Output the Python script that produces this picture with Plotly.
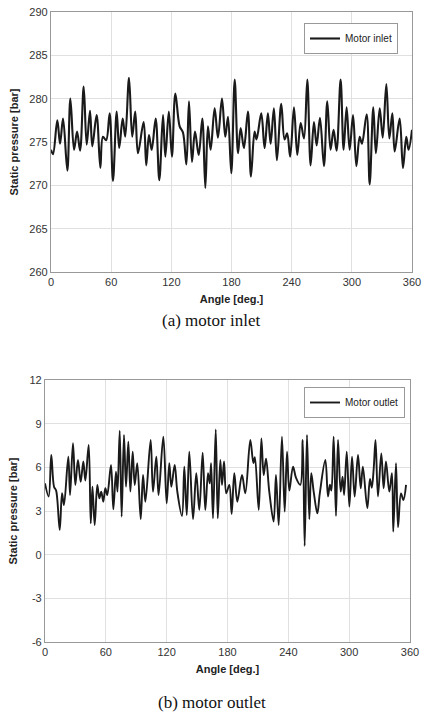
import plotly.graph_objects as go

# motor inlet: static pressure extremes
inlet_angle = [0, 2, 6.3, 9, 12, 16.3, 19.3, 23, 26, 29, 32.6, 35.6, 38.9, 41.2, 45.5, 49.2, 51.8, 55,
               58.5, 61.8, 65.5, 68, 71.5, 74, 77.8, 81, 84, 86.7, 92.4, 95, 97.7, 100.4, 104.4, 108,
               111.7, 114, 117.5, 120.6, 124, 128.3, 131.6, 135, 137.6, 140.6, 143.6, 147.3, 150.9,
               153.9, 156.5, 159.2, 163.2, 166.5, 170.5, 173.8, 176.5, 179.8, 183.2, 186.5, 189.1,
               192.4, 196.4, 199.4, 203, 205, 209.7, 213, 216.3, 219, 222.3, 225.3, 229.6, 232.9,
               235.5, 238.5, 242.3, 245.6, 249, 252.3, 255.6, 258.9, 262.2, 264.9, 268.2, 272.2,
               275.5, 278.8, 281.8, 284.8, 288.8, 291.8, 294.8, 297.8, 301.2, 304.5, 307.8, 310.1,
               314.8, 317.8, 321.4, 324, 327.8, 330.8, 334.4, 337.4, 340.4, 342.7, 347.7, 351, 354.3,
               356.6, 360]
inlet_pressure = [274.1, 273.6, 277.5, 274.8, 277.7, 271.7, 280.0, 274.1, 276.2, 274.0, 281.4, 274.7,
                  278.6, 274.5, 278.1, 272.0, 275.6, 275.2, 278.3, 270.5, 278.5, 274.3, 277.7, 275.6,
                  282.4, 275.6, 278.5, 273.7, 277.3, 272.3, 275.8, 274.1, 277.7, 270.6, 278.1, 273.3,
                  278.5, 273.3, 280.6, 276.8, 276.1, 272.4, 279.7, 272.7, 276.2, 273.5, 277.7, 269.7,
                  276.8, 274.1, 278.9, 275.5, 280.0, 275.6, 277.9, 271.4, 282.2, 273.7, 276.6, 274.3,
                  278.5, 271.0, 276.2, 275.3, 278.3, 274.3, 278.3, 274.8, 278.9, 272.9, 279.4, 275.3,
                  276.0, 273.3, 279.0, 273.5, 277.2, 275.4, 282.2, 272.3, 277.3, 274.6, 277.8, 272.2,
                  279.7, 274.1, 276.4, 274.0, 282.2, 274.1, 279.0, 274.1, 278.1, 272.2, 275.6, 274.8,
                  278.2, 270.1, 279.0, 273.7, 278.9, 275.5, 281.7, 275.4, 278.3, 273.9, 277.7, 272.0,
                  275.6, 274.1, 276.4]

# motor outlet
outlet_angle = [0, 3.6, 6.2, 8.9, 11, 14.5, 16.8, 18.7, 23, 24.7, 27.6, 29.9, 32.5, 35.2, 37.8, 39.8,
                43.1, 45.1, 46.8, 49, 51.6, 53.6, 55.5, 57.5, 59.5, 61.4, 65.1, 67.4, 70, 71.5, 73.7,
                75.6, 77.9, 79.9, 82.2, 84.2, 86.5, 88.5, 91, 94.4, 96.7, 99, 104.2, 106.5, 109.8, 112,
                116.7, 120, 122.6, 124.6, 127.9, 130.5, 135.1, 137.4, 139.8, 142.3, 146, 149.2, 152.2,
                155.5, 158.1, 160.8, 162.5, 163.8, 165.7, 168.4, 170.4, 172.9, 174.6, 176.6, 178.8,
                181.8, 184.1, 186.7, 189.7, 194.3, 197.6, 202.5, 205.5, 207, 210.8, 213.4, 215.7, 218,
                221.2, 225.5, 227.8, 230.5, 233.7, 236.4, 238.7, 241, 244.6, 247.5, 251.8, 254.2,
                256.1, 258.4, 260.7, 262.6, 265, 268.6, 271, 276.5, 279.1, 281, 282.5, 284.7, 287, 289,
                291.6, 293.5, 295, 297.6, 300.2, 302.8, 305.4, 308.7, 311.4, 313.5, 317.9, 320.5,
                322.3, 324.2, 326, 328.4, 331.7, 334, 336.3, 339.6, 342.2, 343.5, 346.2, 348.2, 351.1,
                353.5, 356.1, 360]
outlet_pressure = [4.9, 4.0, 6.85, 4.67, 4.4, 1.7, 4.22, 3.41, 6.73, 4.1, 7.65, 4.79, 6.5, 5.0, 6.4,
                   5.1, 7.53, 2.15, 4.67, 2.04, 4.79, 3.87, 4.33, 3.64, 4.56, 4.1, 6.16, 3.11, 5.7,
                   4.33, 8.52, 2.61, 8.22, 4.67, 7.76, 4.33, 7.07, 4.79, 6.28, 2.43, 5.47, 3.64, 7.88,
                   4.33, 6.73, 4.1, 8.1, 3.53, 6.28, 4.67, 6.16, 4.33, 2.66, 6.05, 2.73, 7.07, 2.43,
                   5.59, 3.07, 7.0, 3.07, 5.59, 4.9, 6.28, 2.5, 8.61, 2.5, 6.5, 4.79, 6.4, 4.22, 4.79,
                   2.8, 5.59, 3.64, 5.47, 4.22, 7.88, 6.3, 6.7, 3.07, 7.99, 5.47, 6.6, 4.33, 2.27, 5.47,
                   2.04, 8.1, 2.96, 7.07, 4.4, 6.05, 5.3, 4.8, 7.88, 0.6, 8.22, 2.43, 5.59, 4.33, 2.84,
                   4.2, 6.5, 4.0, 4.8, 4.4, 8.1, 2.66, 7.88, 4.33, 5.36, 4.1, 7.07, 3.3, 6.73, 4.0, 6.85,
                   4.56, 6.05, 3.2, 5.2, 4.6, 5.9, 7.88, 4.0, 6.96, 4.56, 6.4, 4.33, 5.6, 1.58, 6.28,
                   1.88, 4.2, 3.76, 4.79]

x_ticks = [0, 60, 120, 180, 240, 300, 360]
inlet_ticks = [260, 265, 270, 275, 280, 285, 290]
outlet_ticks = [-6, -3, 0, 3, 6, 9, 12]

W, H = 422, 716


def px(x):
    return x / W


def py(y):
    return 1 - y / H


fig = go.Figure()
fig.add_scatter(x=inlet_angle, y=inlet_pressure, mode="lines", name="Motor inlet",
                line=dict(color="#1a1a1a", width=2.1, shape="spline", smoothing=1.0),
                xaxis="x", yaxis="y", legend="legend")
fig.add_scatter(x=outlet_angle, y=outlet_pressure, mode="lines", name="Motor outlet",
                line=dict(color="#1a1a1a", width=1.9, shape="spline", smoothing=1.0),
                xaxis="x2", yaxis="y2", legend="legend2")

tick_font = dict(family="Liberation Sans, Arial", size=11, color="#333")
title_font = dict(family="Liberation Sans, Arial", size=11, color="#222")
axis_common = dict(showgrid=True, gridcolor="#e0e0e0", gridwidth=1, showline=True, linecolor="#999",
                   linewidth=1.2, mirror=True, ticks="", tickfont=tick_font, zeroline=False,
                   automargin=False, ticklabeloverflow="allow")
legend_font = dict(family="Liberation Sans, Arial", size=10, color="#222")

fig.update_layout(
    width=W, height=H, paper_bgcolor="white", plot_bgcolor="white",
    margin=dict(l=0, r=0, t=0, b=0, autoexpand=False), showlegend=True,
    xaxis=dict(domain=[px(51), px(412)], range=[0, 360], tickvals=x_ticks, anchor="y",
               title=dict(text="<b>Angle [deg.]</b>", font=title_font, standoff=8), **axis_common),
    yaxis=dict(domain=[py(272), py(12)], range=[260, 290], tickvals=inlet_ticks, anchor="x",
               title=dict(text="<b>Static pressure [bar]</b>", font=title_font, standoff=8), **axis_common),
    xaxis2=dict(domain=[px(45), px(410)], range=[0, 360], tickvals=x_ticks, anchor="y2",
                title=dict(text="<b>Angle [deg.]</b>", font=title_font, standoff=8), **axis_common),
    yaxis2=dict(domain=[py(642), py(380)], range=[-6, 12], tickvals=outlet_ticks,
                ticktext=[str(v) for v in outlet_ticks], anchor="x2",
                title=dict(text="<b>Static pressure [bar]</b>", font=title_font, standoff=9), **axis_common),
    legend=dict(x=px(398), y=py(23), xanchor="right", yanchor="top", bordercolor="#999",
                borderwidth=1, bgcolor="white", font=legend_font, itemwidth=30),
    legend2=dict(x=px(405), y=py(387), xanchor="right", yanchor="top", bordercolor="#999",
                 borderwidth=1, bgcolor="white", font=legend_font, itemwidth=30),
)

caption_font = dict(family="Liberation Serif, Times New Roman", size=17, color="#111")
fig.add_annotation(text="(a) motor inlet", x=px(211), y=py(320), xref="paper", yref="paper",
                   showarrow=False, font=caption_font, xanchor="center", yanchor="middle")
fig.add_annotation(text="(b) motor outlet", x=px(212), y=py(702), xref="paper", yref="paper",
                   showarrow=False, font=caption_font, xanchor="center", yanchor="middle")

# the default page has an 8px body margin; drop it so the figure fills the window
fig.write_html("out.html", config={"displayModeBar": False},
               post_script="document.body.style.margin = '0';")
